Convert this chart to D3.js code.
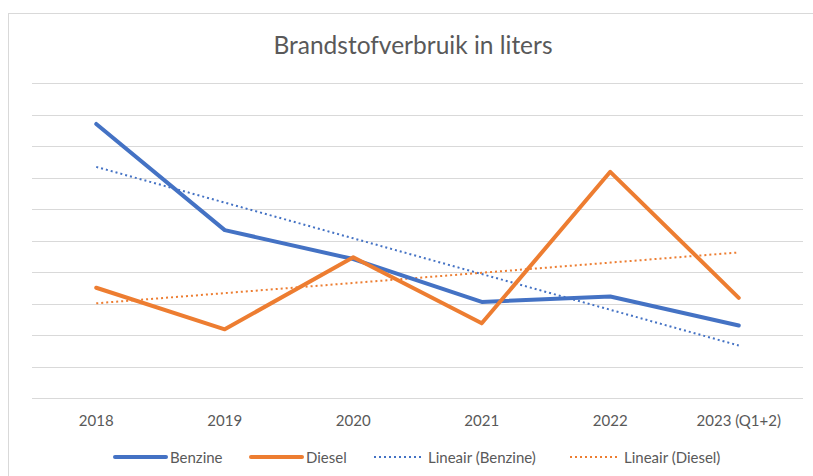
<!DOCTYPE html>
<html>
<head>
<meta charset="utf-8">
<script src="https://cdn.jsdelivr.net/npm/d3@7"></script>
<style>
  body { margin: 0; background: #fff; }
  text { font-family: Lato, "Open Sans", sans-serif; fill: #595959; }
</style>
</head>
<body>
<div id="chart"></div>
<script>
// values (no y labels shown, so units are arbitrary)
const years = ["2018", "2019", "2020", "2021", "2022", "2023 (Q1+2)"];
const benzine = [8.71, 5.34, 4.42, 3.06, 3.23, 2.31];
const diesel = [3.51, 2.19, 4.48, 2.38, 7.19, 3.19];
const gridTicks = [0, 1, 2, 3, 4, 5, 6, 7, 8, 9, 10];

const blue = "#4472C4", orange = "#ED7D31";

// least squares line, like Excel's "Lineair" trendline
function linearFit(vals) {
    let n = vals.length;
    let mx = (n - 1) / 2;
    let my = d3.mean(vals);
    let sxy = 0, sxx = 0;
    vals.forEach((v, i) => { sxy += (i - mx) * (v - my); sxx += (i - mx) * (i - mx); });
    let b = sxy / sxx;
    return vals.map((v, i) => my + b * (i - mx));
}

let width = 813, height = 476;
let svg = d3.select("#chart").append("svg").attr("width", width).attr("height", height);

// chart frame
svg.append("rect")
    .attr("x", 8.5).attr("y", 13.5)
    .attr("width", 830).attr("height", 480)
    .attr("fill", "none").attr("stroke", "#d9d9d9");

let plotLeft = 32, plotRight = 803, plotTop = 83.3, plotBottom = 398.3;

let x = d3.scaleBand().domain(years).range([plotLeft, plotRight]);
let y = d3.scaleLinear().domain([0, 10]).range([plotBottom, plotTop]);

svg.append("text")
    .attr("x", 413).attr("y", 54.3)
    .attr("text-anchor", "middle")
    .style("font-size", "24.5px")
    .text("Brandstofverbruik in liters");

// gridlines
svg.append("g").selectAll("line").data(gridTicks).enter().append("line")
    .attr("x1", plotLeft).attr("x2", plotRight)
    .attr("y1", d => Math.round(y(d)) + 0.5).attr("y2", d => Math.round(y(d)) + 0.5)
    .attr("stroke", "#d9d9d9").attr("stroke-width", 1);

// category axis labels
let xAxis = svg.append("g")
    .attr("transform", `translate(0,${plotBottom})`)
    .call(d3.axisBottom(x).tickSize(0));
xAxis.select(".domain").remove();
xAxis.selectAll("text")
    .attr("y", 27.4).attr("dy", null)
    .style("font-size", "15px").attr("fill", "#595959");

let cx = d => x(d) + x.bandwidth() / 2;

let line = d3.line()
    .x((d, i) => cx(years[i]))
    .y(d => y(d));

let series = [
    { name: "Benzine", vals: benzine, color: blue, dashed: false },
    { name: "Diesel", vals: diesel, color: orange, dashed: false },
    { name: "Lineair (Benzine)", vals: linearFit(benzine), color: blue, dashed: true },
    { name: "Lineair (Diesel)", vals: linearFit(diesel), color: orange, dashed: true }
];

// trendlines underneath, then the data lines
[series[2], series[3], series[0], series[1]].forEach(s => {
    svg.append("path")
        .attr("d", line(s.vals))
        .attr("fill", "none")
        .attr("stroke", s.color)
        .attr("stroke-width", s.dashed ? 2 : 4)
        .attr("stroke-dasharray", s.dashed ? "2,3" : null)
        .attr("stroke-linejoin", "round")
        .attr("stroke-linecap", s.dashed ? "butt" : "round");
});

// legend
let legendX = [115, 251, 374, 570];
let ly = 457;
let lg = svg.append("g").selectAll("g").data(series).enter().append("g")
    .attr("transform", (d, i) => `translate(${legendX[i]},${ly})`);
lg.append("line")
    .attr("x1", 0).attr("x2", d => d.dashed ? 47 : 51)
    .attr("y1", 0).attr("y2", 0)
    .attr("stroke", d => d.color)
    .attr("stroke-width", d => d.dashed ? 2 : 4)
    .attr("stroke-dasharray", d => d.dashed ? "2,3" : null)
    .attr("stroke-linecap", d => d.dashed ? "butt" : "round");
lg.append("text")
    .attr("x", d => d.dashed ? 54 : 55)
    .attr("y", 5.5)
    .style("font-size", "15px")
    .text(d => d.name);
</script>
</body>
</html>
